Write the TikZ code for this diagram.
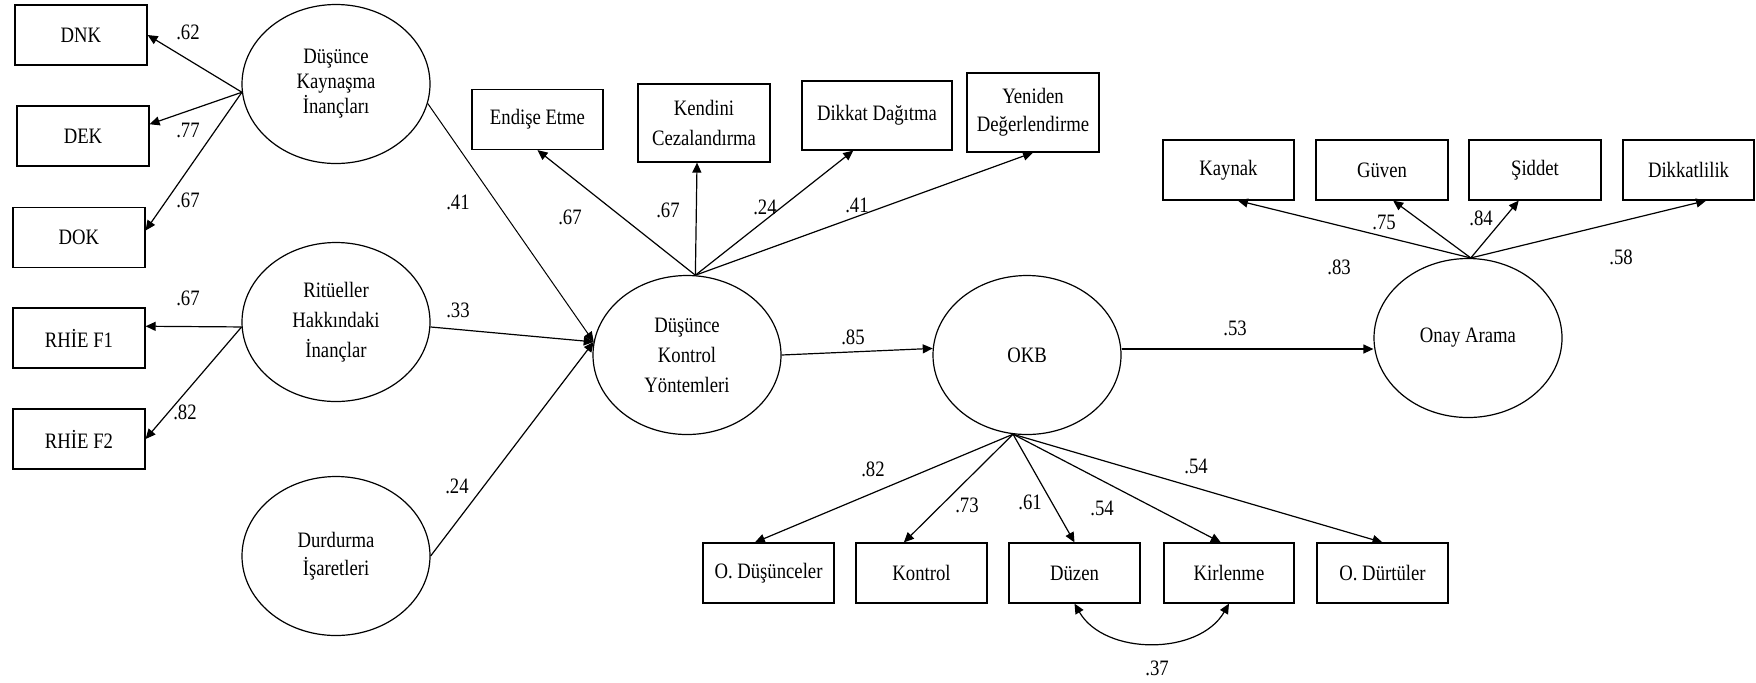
\documentclass[tikz,border=0pt]{standalone}
\usepackage{fontspec}
\setmainfont{Liberation Serif}[FakeStretch=0.85]
\usetikzlibrary{arrows.meta,shapes.geometric,calc}
\begin{document}
\begin{tikzpicture}[x=0.5pt,y=-0.5pt,
  font=\fontsize{11}{14}\selectfont,
  lat/.style={ellipse, draw, line width=0.6pt, minimum width=94pt, minimum height=79.5pt, inner sep=0pt, align=center},
  obs/.style={rectangle, draw, line width=0.6pt, inner sep=0pt, align=center, minimum width=66pt, minimum height=30pt},
  pth/.style={line width=0.6pt, -{Triangle[length=5pt,width=4.5pt]}},
  lnk/.style={line width=0.5pt},
  lbl/.style={inner sep=0pt}]
\useasboundingbox (0,0) rectangle (1756,682);
% latent variables
\node[lat, font=\fontsize{11}{12.5}\selectfont] (DKI) at (336,84) {Düşünce\\Kaynaşma\\İnançları};
\node[lat, font=\fontsize{11}{15}\selectfont] (RHI) at (336,322) {Ritüeller\\Hakkındaki\\İnançlar};
\node[lat] (DI) at (336,556) {Durdurma\\İşaretleri};
\node[lat, font=\fontsize{11}{15}\selectfont] (DKY) at (687,355) {Düşünce\\Kontrol\\Yöntemleri};
\node[lat] (OKB) at (1027,355) {OKB};
\node[lat] (OA) at (1468,338) {Onay Arama};
% left boxes
\node[obs] (DNK) at (81,35) {DNK};
\node[obs] (DEK) at (83,136) {DEK};
\node[obs] (DOK) at (79,237.5) {DOK};
\node[obs] (F1) at (79,338) {RHİE F1};
\node[obs] (F2) at (79,439) {RHİE F2};
% top middle boxes
\node[obs, minimum width=65.5pt] (EE) at (537.5,119.5) {Endişe Etme};
\node[obs, minimum height=39pt, font=\fontsize{11}{15}\selectfont] (KC) at (704,123) {Kendini\\Cezalandırma};
\node[obs, minimum width=75pt, minimum height=34.5pt] (DD) at (877,115.5) {Dikkat Dağıtma};
\node[obs, minimum height=39.5pt] (YD) at (1033,112.5) {Yeniden\\Değerlendirme};
% top right boxes
\node[obs, minimum width=65.5pt] (KAY) at (1228.5,170) {Kaynak};
\node[obs] (GUV) at (1382,170) {Güven};
\node[obs] (SID) at (1535,170) {Şiddet};
\node[obs, minimum width=65.5pt] (DIK) at (1688.5,170) {Dikkatlilik};
% bottom boxes
\node[obs, minimum width=65.5pt] (OD) at (768.5,573) {O. Düşünceler};
\node[obs, minimum width=65.5pt] (KON) at (921.5,573) {Kontrol};
\node[obs, minimum width=65.5pt] (DUZ) at (1074.5,573) {Düzen};
\node[obs, minimum width=65pt] (KIR) at (1229,573) {Kirlenme};
\node[obs, minimum width=65.5pt] (ODT) at (1382.5,573) {O. Dürtüler};
% left loadings
\draw[pth] (DKI.185) -- (DNK.east);
\draw[pth] (DKI.185) -- (DEK.10);
\draw[pth] (DKI.185) -- (DOK.6);
\draw[pth] (RHI.183) -- (F1.10);
\draw[pth] (RHI.183) -- (F2.east);
% structural paths into DKY
\draw[pth, lnk] (DKI.348) -- (DKY.172);
\draw[pth] (RHI.357) -- (DKY.172);
\draw[pth] (DI.east) -- (DKY.172);
% DKY loadings
\draw[pth] (DKY.84) -- (EE.south);
\draw[pth] (DKY.84) -- (KC.260);
\draw[pth] (DKY.84) -- (DD.236);
\draw[pth] (DKY.84) -- (YD.south);
% DKY -> OKB -> OA
\draw[pth] (DKY.east) -- (OKB.176);
\draw[pth] ($(OKB.east)+(0,-6)$) -- ($(OA.west |- OKB.east)+(0,-6)$);
% OKB loadings
\draw[pth] (OKB.260) -- (OD.114);
\draw[pth] (OKB.260) -- (KON.120);
\draw[pth] (OKB.260) -- (DUZ.north);
\draw[pth] (OKB.260) -- (KIR.105);
\draw[pth] (OKB.260) -- (ODT.north);
% OA loadings
\draw[pth] (OA.88) -- (KAY.287);
\draw[pth] (OA.88) -- (GUV.290);
\draw[pth] (OA.88) -- (SID.242);
\draw[pth] (OA.88) -- (DIK.300);
% covariance
\draw[line width=0.6pt, {Triangle[length=5pt,width=4.5pt]}-{Triangle[length=5pt,width=4.5pt]}] (DUZ.south) to[out=-60,in=-120] (KIR.south);
% labels
\node[lbl] (l1) at (188,32) {.62};
\node[lbl] (l2) at (188,130) {.77};
\node[lbl] (l3) at (188,200) {.67};
\node[lbl] (l4) at (188,298) {.67};
\node[lbl] (l5) at (185,412) {.82};
\node[lbl] (l6) at (458,202) {.41};
\node[lbl] (l7) at (458,310) {.33};
\node[lbl] (l8) at (457,486) {.24};
\node[lbl] (l9) at (570,217) {.67};
\node[lbl] (l10) at (668,210) {.67};
\node[lbl] (l11) at (765,207) {.24};
\node[lbl] (l12) at (857,205) {.41};
\node[lbl] (l13) at (853,337) {.85};
\node[lbl] (l14) at (1235,328) {.53};
\node[lbl] (l15) at (1339,267) {.83};
\node[lbl] (l16) at (1384,222) {.75};
\node[lbl] (l17) at (1481,218) {.84};
\node[lbl] (l18) at (1621,257) {.58};
\node[lbl] (l19) at (873,469) {.82};
\node[lbl] (l20) at (967,505) {.73};
\node[lbl] (l21) at (1030,502) {.61};
\node[lbl] (l22) at (1102,508) {.54};
\node[lbl] (l23) at (1196,466) {.54};
\node[lbl] (l24) at (1157,668) {.37};
\end{tikzpicture}
\end{document}
